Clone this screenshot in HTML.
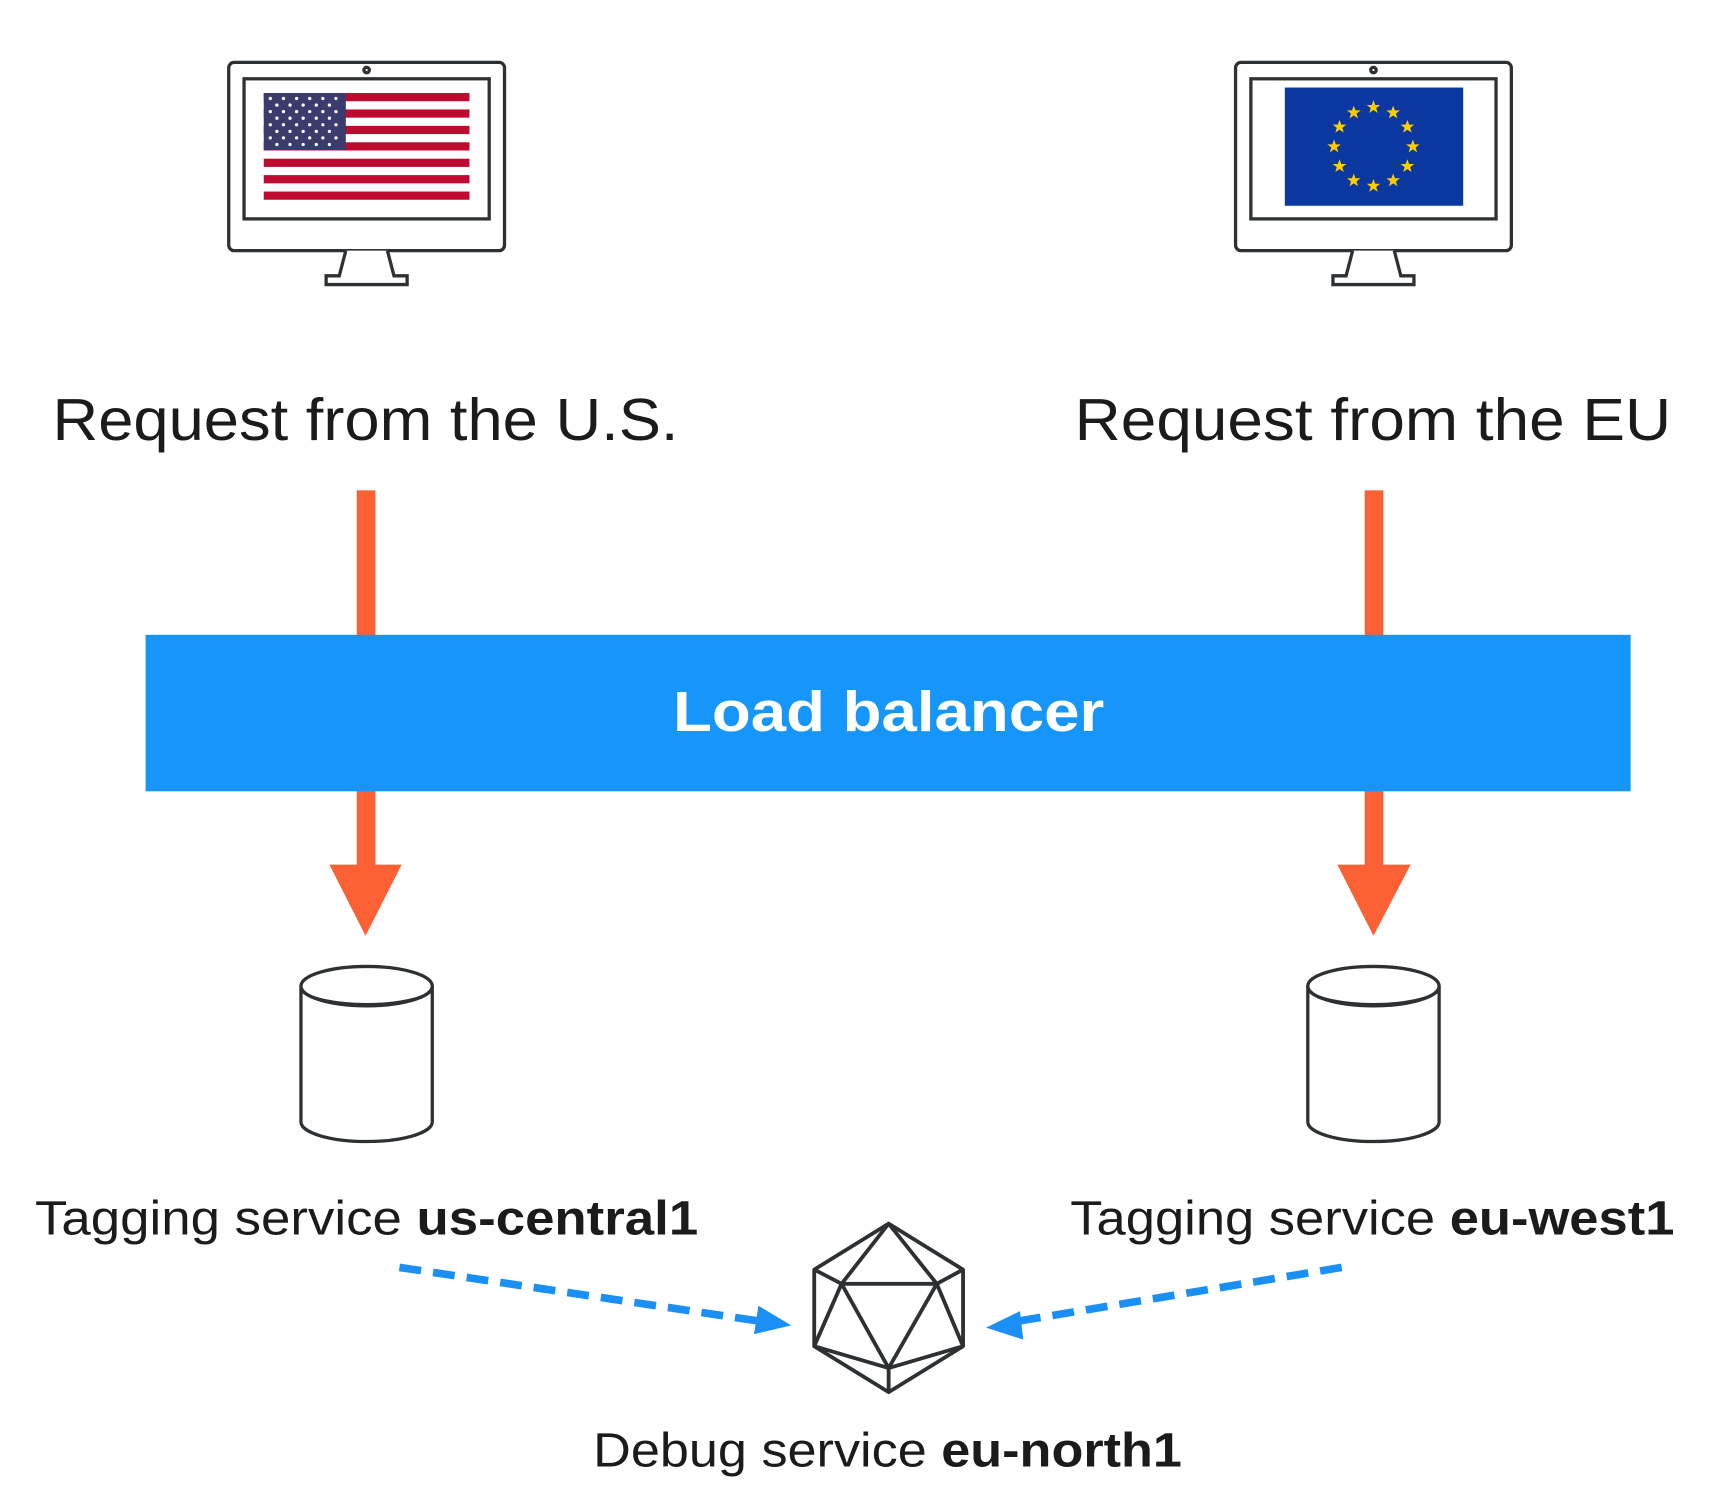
<!DOCTYPE html>
<html><head><meta charset="utf-8"><style>
html,body{margin:0;padding:0;background:#fff;}
svg{display:block;}
text{font-family:"Liberation Sans",sans-serif;}
</style></head><body>
<svg width="1716" height="1506" viewBox="0 0 1568 1376" preserveAspectRatio="none" xmlns="http://www.w3.org/2000/svg">
<defs>
<g id="mon" fill="none" stroke="#2d3133" stroke-width="3">
<rect x="0" y="0" width="252" height="172" rx="5"/>
<rect x="14" y="15" width="224" height="128"/>
<circle cx="126" cy="7" r="2.5"/>
<path d="M107 172 L101 195 L89 195 L89 203 L163 203 L163 195 L151 195 L145 172" fill="#fff"/>
</g>
<polygon id="st" points="0,-6.5 1.6,-2.1 6.2,-2.1 2.5,0.8 3.9,5.2 0,2.5 -3.9,5.2 -2.5,0.8 -6.2,-2.1 -1.6,-2.1" fill="#ffcc00"/>
</defs>
<rect width="1568" height="1376" fill="#fff"/>
<g transform="translate(209,57)"><use href="#mon"/></g>
<rect x="241" y="85" width="188" height="98" fill="#fff"/>
<g fill="#bf0a30">
<rect x="241" y="85" width="188" height="7.5"/><rect x="241" y="100" width="188" height="7.5"/><rect x="241" y="115" width="188" height="7.5"/><rect x="241" y="130" width="188" height="7.5"/><rect x="241" y="145" width="188" height="7.5"/><rect x="241" y="160" width="188" height="7.5"/><rect x="241" y="175" width="188" height="7.5"/>
</g>
<rect x="241" y="85" width="75" height="52" fill="#3c3b6e"/>
<g fill="#fff">
<circle cx="247" cy="90" r="1.5"/><circle cx="259" cy="90" r="1.5"/><circle cx="271" cy="90" r="1.5"/><circle cx="283" cy="90" r="1.5"/><circle cx="295" cy="90" r="1.5"/><circle cx="307" cy="90" r="1.5"/>
<circle cx="253" cy="96" r="1.5"/><circle cx="265" cy="96" r="1.5"/><circle cx="277" cy="96" r="1.5"/><circle cx="289" cy="96" r="1.5"/><circle cx="301" cy="96" r="1.5"/>
<circle cx="247" cy="102" r="1.5"/><circle cx="259" cy="102" r="1.5"/><circle cx="271" cy="102" r="1.5"/><circle cx="283" cy="102" r="1.5"/><circle cx="295" cy="102" r="1.5"/><circle cx="307" cy="102" r="1.5"/>
<circle cx="253" cy="108" r="1.5"/><circle cx="265" cy="108" r="1.5"/><circle cx="277" cy="108" r="1.5"/><circle cx="289" cy="108" r="1.5"/><circle cx="301" cy="108" r="1.5"/>
<circle cx="247" cy="114" r="1.5"/><circle cx="259" cy="114" r="1.5"/><circle cx="271" cy="114" r="1.5"/><circle cx="283" cy="114" r="1.5"/><circle cx="295" cy="114" r="1.5"/><circle cx="307" cy="114" r="1.5"/>
<circle cx="253" cy="120" r="1.5"/><circle cx="265" cy="120" r="1.5"/><circle cx="277" cy="120" r="1.5"/><circle cx="289" cy="120" r="1.5"/><circle cx="301" cy="120" r="1.5"/>
<circle cx="247" cy="126" r="1.5"/><circle cx="259" cy="126" r="1.5"/><circle cx="271" cy="126" r="1.5"/><circle cx="283" cy="126" r="1.5"/><circle cx="295" cy="126" r="1.5"/><circle cx="307" cy="126" r="1.5"/>
<circle cx="253" cy="132" r="1.5"/><circle cx="265" cy="132" r="1.5"/><circle cx="277" cy="132" r="1.5"/><circle cx="289" cy="132" r="1.5"/><circle cx="301" cy="132" r="1.5"/>
</g>
<g transform="translate(1129,57)"><use href="#mon"/></g>
<rect x="1174" y="80" width="163" height="108" fill="#0a38a0"/>
<g transform="translate(1255,134)">
<use href="#st" x="0" y="-36"/><use href="#st" x="18" y="-31"/><use href="#st" x="31" y="-18"/><use href="#st" x="36" y="0"/><use href="#st" x="31" y="18"/><use href="#st" x="18" y="31"/><use href="#st" x="0" y="36"/><use href="#st" x="-18" y="31"/><use href="#st" x="-31" y="18"/><use href="#st" x="-36" y="0"/><use href="#st" x="-31" y="-18"/><use href="#st" x="-18" y="-31"/>
</g>
<text x="48" y="402" font-size="54" fill="#1b1b1b" textLength="572" lengthAdjust="spacingAndGlyphs">Request from the U.S.</text>
<text x="982" y="402" font-size="54" fill="#1b1b1b" textLength="545" lengthAdjust="spacingAndGlyphs">Request from the EU</text>
<g fill="#fc6136">
<rect x="326" y="448" width="17" height="140"/>
<rect x="326" y="715" width="17" height="77"/>
<polygon points="301,790 367,790 334,855"/>
<rect x="1247" y="448" width="17" height="140"/>
<rect x="1247" y="715" width="17" height="77"/>
<polygon points="1222,790 1289,790 1255,855"/>
</g>
<rect x="133" y="580" width="1357" height="143" fill="#1696fa"/>
<text x="812" y="668" font-size="52" font-weight="bold" fill="#fff" text-anchor="middle" textLength="394" lengthAdjust="spacingAndGlyphs">Load balancer</text>
<g fill="#fff" stroke="#2d3133" stroke-width="3">
<path d="M275 901 L275 1025 A60 18 0 0 0 395 1025 L395 901"/>
<ellipse cx="335" cy="901" rx="60" ry="18"/>
<path d="M277 906 A60 16 0 0 0 393 906" fill="none"/>
<path d="M1195 901 L1195 1025 A60 18 0 0 0 1315 1025 L1315 901"/>
<ellipse cx="1255" cy="901" rx="60" ry="18"/>
<path d="M1197 906 A60 16 0 0 0 1313 906" fill="none"/>
</g>
<text x="32" y="1128" font-size="44" fill="#1b1b1b" textLength="606" lengthAdjust="spacingAndGlyphs">Tagging service <tspan font-weight="bold">us-central1</tspan></text>
<text x="978" y="1128" font-size="44" fill="#1b1b1b" textLength="552" lengthAdjust="spacingAndGlyphs">Tagging service <tspan font-weight="bold">eu-west1</tspan></text>
<g stroke="#1a8ff5" stroke-width="7" stroke-dasharray="20 11" fill="none">
<line x1="365" y1="1158" x2="700" y2="1208"/>
<line x1="1226" y1="1158" x2="925" y2="1208"/>
</g>
<g fill="#1a8ff5">
<polygon points="723,1211 693,1193 689,1219"/>
<polygon points="901,1213 932,1198 935,1224"/>
</g>
<g fill="none" stroke="#2d3133" stroke-width="3.5" stroke-linejoin="round">
<polygon points="812,1118 880,1160 880,1230 812,1272 744,1230 744,1160"/>
<polygon points="769,1173 856,1173 812,1250"/>
<line x1="812" y1="1118" x2="769" y2="1173"/><line x1="812" y1="1118" x2="856" y2="1173"/>
<line x1="744" y1="1160" x2="769" y2="1173"/><line x1="880" y1="1160" x2="856" y2="1173"/>
<line x1="769" y1="1173" x2="744" y2="1230"/><line x1="856" y1="1173" x2="880" y2="1230"/>
<line x1="744" y1="1230" x2="812" y2="1250"/><line x1="880" y1="1230" x2="812" y2="1250"/>
<line x1="812" y1="1250" x2="812" y2="1272"/>
</g>
<text x="542" y="1340" font-size="44" fill="#1b1b1b" textLength="538" lengthAdjust="spacingAndGlyphs">Debug service <tspan font-weight="bold">eu-north1</tspan></text>
</svg>
</body></html>
